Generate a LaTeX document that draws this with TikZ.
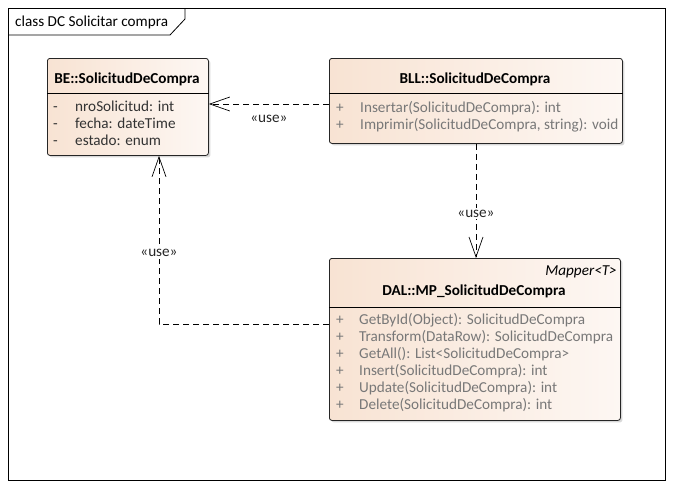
\documentclass[tikz,border=0pt]{standalone}
\usepackage{fontspec}
\setmainfont{Carlito}
\usetikzlibrary{arrows.meta}
\usetikzlibrary{shadows}
\definecolor{boxleft}{RGB}{248,227,211}
\definecolor{boxright}{RGB}{253,247,243}
\definecolor{optext}{RGB}{120,120,120}
\newcommand{\umlfont}{\fontsize{15.2}{18}\selectfont}

\tikzset{
  clsbox/.style={draw=black!85, line width=0.8pt, rounded corners=2.5pt, anchor=north west,
    left color=boxleft, right color=boxright, inner sep=0pt,
    drop shadow={shadow xshift=2pt, shadow yshift=-2pt, fill=black!30, opacity=0.5}},
  clstitle/.style={font=\umlfont\bfseries, anchor=mid, yshift=-2pt},
  member/.style={anchor=mid west, inner sep=0pt, text=black!80, yshift=-2pt},
  oper/.style={anchor=mid west, inner sep=0pt, text=optext, yshift=-2pt},
  uses/.style={draw=black, line width=0.7pt, dash pattern=on 6pt off 4pt,
    -{Straight Barb[length=20pt,width=14pt,line width=0.7pt]}},
  lbl/.style={text=black!85, inner sep=1.5pt}
}

\begin{document}
\begin{tikzpicture}[x=1pt,y=-1pt,font=\umlfont]
\useasboundingbox (0,0) rectangle (673,488);
\fill[white] (0,0) rectangle (673,488);

% frame
\draw[line width=0.8pt] (8,8) rectangle (665,480);
\draw[line width=0.8pt] (8,35) -- (170,35) -- (185,19) -- (185,8);
\node[anchor=mid west, inner sep=0pt, yshift=-2pt] (frameT) at (15,22) {class DC Solicitar compra};

% classes
\node[clsbox, minimum width=161pt, minimum height=97pt] (be) at (47,58) {};
\node[clsbox, minimum width=293pt, minimum height=85pt] (bll) at (329,58) {};
\node[clsbox, minimum width=291pt, minimum height=162pt] (dal) at (329,258) {};

\draw[line width=0.8pt] (be.west |- 0,93) -- (be.east |- 0,93);
\draw[line width=0.8pt] (bll.west |- 0,93) -- (bll.east |- 0,93);
\draw[line width=0.8pt] (dal.west |- 0,307) -- (dal.east |- 0,307);

\node[clstitle] (beT) at (127,79) {BE::SolicitudDeCompra};
\node[member] (be1) at (53,107) {-};
\node[member] (be1t) at (75,107) {nroSolicitud: int};
\node[member] (be2) at (53,124) {-};
\node[member] (be2t) at (75,124) {fecha: dateTime};
\node[member] (be3) at (53,141) {-};
\node[member] (be3t) at (75,141) {estado: enum};

\node[clstitle] (bllT) at (475,79) {BLL::SolicitudDeCompra};
\node[oper] (bll1) at (336,108) {+};
\node[oper] (bll1t) at (360,108) {Insertar(SolicitudDeCompra): int};
\node[oper] (bll2) at (336,125) {+};
\node[oper] (bll2t) at (360,125) {Imprimir(SolicitudDeCompra, string): void};

\node[anchor=mid east, inner sep=0pt, font=\umlfont\itshape, yshift=-2pt] (dalS) at (617,271) {Mapper<T>};
\node[clstitle] (dalT) at (474,291) {DAL::MP\_SolicitudDeCompra};
\node[oper] (dal1) at (336,320) {+};
\node[oper] (dal1t) at (359,320) {GetById(Object): SolicitudDeCompra};
\node[oper] (dal2) at (336,337) {+};
\node[oper] (dal2t) at (359,337) {Transform(DataRow): SolicitudDeCompra};
\node[oper] (dal3) at (336,354) {+};
\node[oper] (dal3t) at (359,354) {GetAll(): List<SolicitudDeCompra>};
\node[oper] (dal4) at (336,371) {+};
\node[oper] (dal4t) at (359,371) {Insert(SolicitudDeCompra): int};
\node[oper] (dal5) at (336,388) {+};
\node[oper] (dal5t) at (359,388) {Update(SolicitudDeCompra): int};
\node[oper] (dal6) at (336,405) {+};
\node[oper] (dal6t) at (359,405) {Delete(SolicitudDeCompra): int};

% dependencies
\draw[uses] (bll.west |- 0,104) -- (be.east |- 0,104)
  node[lbl, midway, yshift=-15pt] {«use»};
\draw[uses] (bll.south -| 476,0) -- (dal.north -| 476,0)
  node[lbl, fill=white, pos=0.61] {«use»};
\draw[uses] (dal.west |- 0,324) -| (be.south -| 159,0)
  node[lbl, fill=white, pos=0.71] {«use»};
\end{tikzpicture}
\end{document}
